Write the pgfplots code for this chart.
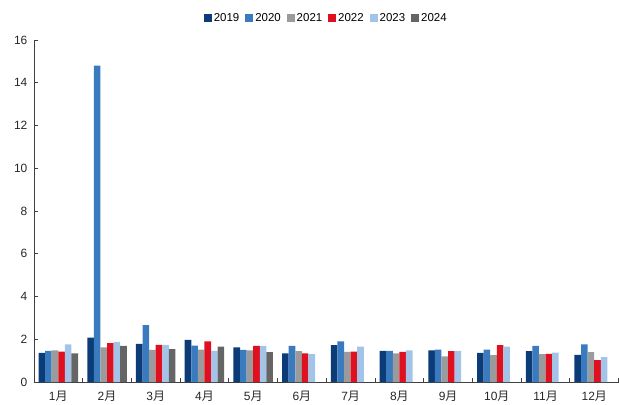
\documentclass[border=0pt]{standalone}
\usepackage{pgfplots}
\pgfplotsset{compat=1.18}
\usepackage{fontspec}
\setmainfont{Liberation Sans}
\newfontfamily\cjk{Noto Sans CJK SC}
\definecolor{cA}{HTML}{0B3C77}
\definecolor{cB}{HTML}{3A7BBF}
\definecolor{cC}{HTML}{9B9B9B}
\definecolor{cD}{HTML}{DF1020}
\definecolor{cE}{HTML}{A3C4E8}
\definecolor{cF}{HTML}{656565}
\begin{document}
\begin{tikzpicture}[x=1pt,y=1pt]
\begin{axis}[
  at={(0,0)}, anchor=south west,
  scale only axis, width=586pt, height=343pt,
  ybar=0pt, bar width=6.6pt,
  xmin=-0.5, xmax=11.5, ymin=0, ymax=16,
  axis lines=left, axis line style={-, draw=black!75, line width=0.8pt},
  xtick={0,...,11},
  xticklabels={{1\cjk 月},{2\cjk 月},{3\cjk 月},{4\cjk 月},{5\cjk 月},{6\cjk 月},{7\cjk 月},{8\cjk 月},{9\cjk 月},{10\cjk 月},{11\cjk 月},{12\cjk 月}},
  minor xtick={-0.5,0.5,...,11.5},
  major x tick style={draw=none},
  minor tick length=4pt,
  ytick={0,2,...,16}, major tick length=4pt,
  tick align=inside,
  tick style={draw=black!75, line width=0.8pt},
  /pgf/number format/assume math mode=true,
  ticklabel style={font=\fontsize{12}{14}\selectfont, text=black!85},
  xticklabel style={yshift=-5pt},
  yticklabel style={xshift=-3pt},
  legend columns=6,
  legend style={draw=none, at={(0.5,1.064)}, anchor=center, font=\fontsize{11.5}{13}\selectfont, /tikz/every even column/.append style={column sep=4pt}},
  legend image code/.code={\fill[#1] (0pt,-4pt) rectangle (8pt,4pt);},
  every axis plot/.append style={draw=none},
]
\addplot[fill=cA] coordinates {(0,1.37)(1,2.08)(2,1.79)(3,1.98)(4,1.62)(5,1.35)(6,1.73)(7,1.46)(8,1.48)(9,1.37)(10,1.45)(11,1.28)};
\addplot[fill=cB] coordinates {(0,1.46)(1,14.8)(2,2.66)(3,1.71)(4,1.51)(5,1.70)(6,1.90)(7,1.46)(8,1.52)(9,1.52)(10,1.70)(11,1.77)};
\addplot[fill=cC] coordinates {(0,1.49)(1,1.63)(2,1.51)(3,1.52)(4,1.48)(5,1.45)(6,1.42)(7,1.34)(8,1.20)(9,1.26)(10,1.31)(11,1.40)};
\addplot[fill=cD] coordinates {(0,1.43)(1,1.82)(2,1.74)(3,1.90)(4,1.70)(5,1.35)(6,1.43)(7,1.42)(8,1.45)(9,1.73)(10,1.32)(11,1.03)};
\addplot[fill=cE] coordinates {(0,1.77)(1,1.88)(2,1.74)(3,1.46)(4,1.70)(5,1.31)(6,1.66)(7,1.49)(8,1.46)(9,1.66)(10,1.38)(11,1.17)};
\addplot[fill=cF] coordinates {(0,1.35)(1,1.70)(2,1.54)(3,1.66)(4,1.40)};
\legend{2019,2020,2021,2022,2023,2024}
\end{axis}
\path[use as bounding box] (-34pt,-20pt) rectangle (585pt,383pt);
\end{tikzpicture}
\end{document}
